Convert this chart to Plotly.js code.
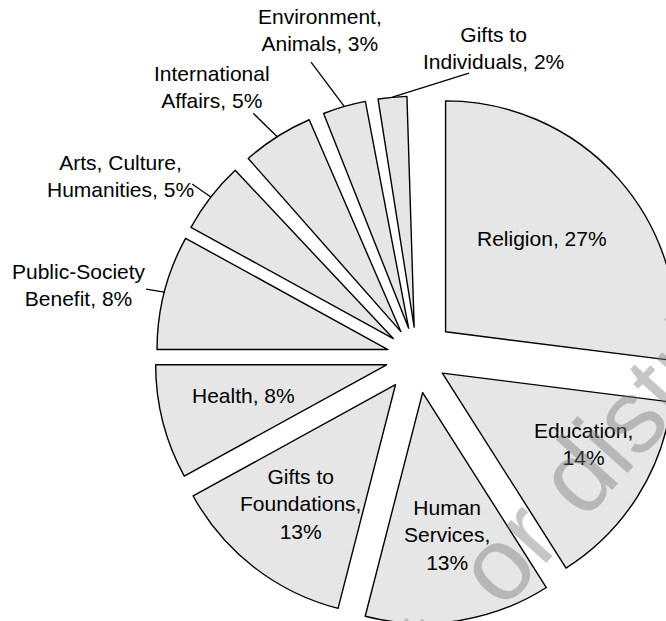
<!DOCTYPE html>
<html><head><meta charset="utf-8">
<script src="https://cdn.plot.ly/plotly-3.0.1.min.js"></script>
<style>
html,body{margin:0;padding:0;background:#fff;overflow:hidden}
#wrap{width:666px;height:621px;overflow:hidden;position:relative;background:#fff}
#chart{width:700px;height:640px}
</style></head>
<body><div id="wrap"><div id="chart"></div></div>
<script>
// ---- data ----
// labelled categories plus the unlabelled blank gaps seen between the small slices
const categories = ["Religion","Education","Human Services","Gifts to Foundations","Health",
  "Public-Society Benefit","Arts, Culture, Humanities","(gap 1)","International Affairs","(gap 2)",
  "Environment, Animals","(gap 3)","Gifts to Individuals","(gap 4)"];
const values = [27,14,13,13,8,8,5,0.5,5,0.5,3,0.5,2,0.5];
const labelLines = ["Religion","Education","Human<br>Services","Gifts to<br>Foundations","Health",
  "Public-Society<br>Benefit","Arts, Culture,<br>Humanities","","International<br>Affairs","",
  "Environment,<br>Animals","","Gifts to<br>Individuals",""];
const percentOnNewLine = [false,true,true,true,false,false,false,false,false,false,false,false,false,false];
const labelInside = [true,true,true,true,true,false,false,false,false,false,false,false,false,false];
const sliceVisible = [true,true,true,true,true,true,true,false,true,false,true,false,true,false];
const watermarkText = "Do not copy, post, or distribute";

// ---- style / geometry ----
const FONT = {family:"Liberation Sans, Arial, Helvetica, sans-serif", size:21, color:"#000"};
const pulls = [0.165,0.13,0.156,0.152,0.136,0.13,0.13,0,0.13,0,0.13,0,0.13,0];
const W=700, H=640, CX=417, CY=357, R=231;
const maxPull = Math.max(...pulls);
const box = R*(1+maxPull);
const m = {l:CX-box, r:W-CX-box, t:CY-box, b:H-CY-box, pad:0};
const pw = W-m.l-m.r, ph = H-m.t-m.b;
const toPaper = (px,py)=>[(px-m.l)/pw, 1-(py-m.t)/ph];
// label centres (pixels) and leader-line start points for the outside labels
const labelPos = {0:[542,238],1:[584,444],2:[447,535],3:[300,504],4:[243,396],
  5:[79,285],6:[120,176],8:[212,87],10:[320,30],12:[494,48]};
const leaderStart = {5:[146,289],6:[192,184],8:[253,113],10:[311,62],12:[469,73]};

const texts = categories.map((c,i)=> sliceVisible[i] ?
  labelLines[i] + "," + (percentOnNewLine[i] ? "<br>" : " ") + values[i] + "%" : "");

const total = values.reduce((a,b)=>a+b,0);
let cum = 0;
const annotations = [], shapes = [];
values.forEach((v,i)=>{
  const th = 2*Math.PI*(cum + v/2)/total;
  cum += v;
  if(!sliceVisible[i]) return;
  const lp = labelPos[i];
  const p = toPaper(lp[0],lp[1]);
  annotations.push({xref:"paper",yref:"paper",x:p[0],y:p[1],xanchor:"center",yanchor:"middle",
    text:texts[i],showarrow:false,font:FONT,align:"center"});
  if(labelInside[i]) return;
  const s=Math.sin(th), c=Math.cos(th);
  const ex = CX + (pulls[i]+1)*R*s, ey = CY - (pulls[i]+1)*R*c;
  const ls = leaderStart[i];
  const a = toPaper(ex,ey), b = toPaper(ls[0],ls[1]);
  shapes.push({type:"line",xref:"paper",yref:"paper",x0:b[0],y0:b[1],x1:a[0],y1:a[1],
    line:{color:"#000",width:1.3}});
});
// faint diagonal watermark
const wm = toPaper(370,705);
annotations.push({xref:"paper",yref:"paper",x:wm[0],y:wm[1],xanchor:"center",yanchor:"middle",
  text:watermarkText,showarrow:false,textangle:-48,
  font:{family:"Liberation Sans, Arial, sans-serif",size:104,color:"rgba(120,120,120,0.42)"}});

const trace = {
  type:"pie", labels:categories, values:values, sort:false, direction:"clockwise", rotation:0,
  pull:pulls, textinfo:"none",
  marker:{colors: sliceVisible.map(b=>b?"#e6e6e6":"rgba(0,0,0,0)"),
          line:{color: sliceVisible.map(b=>b?"#000":"rgba(0,0,0,0)"), width: sliceVisible.map(b=>b?1.4:0)}},
  hoverinfo:"none", showlegend:false
};
const layout = {width:W,height:H,margin:m,paper_bgcolor:"#fff",plot_bgcolor:"#fff",
  showlegend:false, font:FONT, annotations:annotations, shapes:shapes};
Plotly.newPlot("chart",[trace],layout,{staticPlot:true});
</script></body></html>
